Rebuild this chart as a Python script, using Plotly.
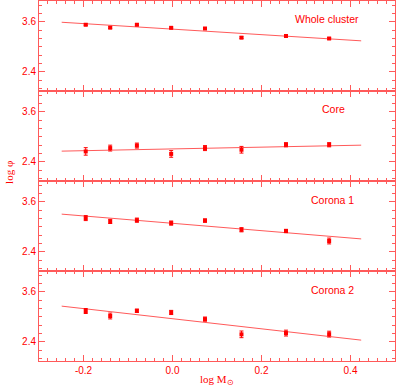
import plotly.graph_objects as go
from plotly.subplots import make_subplots

# log mass bins
log_m = [-0.195, -0.14, -0.08, -0.003, 0.073, 0.155, 0.255, 0.352]

# log phi per region, with errors
whole = [3.53, 3.46, 3.53, 3.456, 3.44, 3.22, 3.26, 3.20]
whole_err = [0.02, 0.02, 0.02, 0.02, 0.02, 0.02, 0.02, 0.02]
core = [2.65, 2.73, 2.79, 2.59, 2.73, 2.69, 2.81, 2.81]
core_err = [0.09, 0.07, 0.06, 0.08, 0.06, 0.08, 0.05, 0.05]
corona1 = [3.21, 3.13, 3.16, 3.09, 3.15, 2.93, 2.90, 2.66]
corona1_err = [0.06, 0.05, 0.05, 0.05, 0.04, 0.05, 0.04, 0.07]
corona2 = [3.14, 3.02, 3.145, 3.105, 2.945, 2.58, 2.61, 2.585]
corona2_err = [0.06, 0.07, 0.04, 0.05, 0.05, 0.08, 0.07, 0.07]

# fitted lines (end points)
fit_x = [-0.249, 0.424]
fit_whole = [3.59, 3.144]
fit_core = [2.657, 2.80]
fit_corona1 = [3.305, 2.71]
fit_corona2 = [3.257, 2.441]

labels = ["Whole cluster", "Core", "Corona 1", "Corona 2"]
label_x = [0.348, 0.362, 0.36, 0.36]
label_y = [3.67, 3.66, 3.64, 3.64]

panels = [(whole, whole_err, fit_whole), (core, core_err, fit_core),
          (corona1, corona1_err, fit_corona1), (corona2, corona2_err, fit_corona2)]

red = "#ff0000"
frame = "#ff5a5a"

fig = make_subplots(rows=4, cols=1, shared_xaxes=True, vertical_spacing=0)

for i, (vals, errs, fit) in enumerate(panels):
    r = i + 1
    fig.add_trace(go.Scatter(x=fit_x, y=fit, mode="lines",
                             line=dict(color=frame, width=1)), row=r, col=1)
    fig.add_trace(go.Scatter(x=log_m, y=vals, mode="markers",
                             marker=dict(symbol="square", size=4, color=red),
                             error_y=dict(type="data", array=errs, color=red,
                                          thickness=1, width=2)),
                  row=r, col=1)
    fig.add_annotation(x=label_x[i], y=label_y[i], text=labels[i], showarrow=False,
                       font=dict(size=10.5, color=red), row=r, col=1)

axis_common = dict(showline=True, linecolor=frame, linewidth=1, mirror="allticks",
                   ticks="inside", tickcolor=frame, showgrid=False, zeroline=False,
                   tickfont=dict(family="Liberation Sans", size=10, color=red))

fig.update_xaxes(range=[-0.3, 0.5], tickvals=[-0.2, 0.0, 0.2, 0.4],
                 ticktext=["-0.2", "0.0", "0.2", "0.4"], ticklen=6,
                 minor=dict(dtick=0.02, tick0=0, ticklen=3, ticks="inside",
                            tickcolor=frame, showgrid=False),
                 **axis_common)
fig.update_yaxes(range=[1.94, 4.1], tickvals=[2.4, 3.6], ticktext=["2.4", "3.6"],
                 ticklen=6,
                 minor=dict(dtick=0.2, tick0=2.4, ticklen=3, ticks="inside",
                            tickcolor=frame, showgrid=False),
                 **axis_common)

fig.add_annotation(xref="paper", yref="paper", x=0.5, y=-0.053, yanchor="middle",
                   text="log M<sub>\u2299</sub>", showarrow=False,
                   font=dict(family="Liberation Serif", size=11, color=red))
fig.add_annotation(xref="paper", yref="paper", x=-0.107, y=0.525, textangle=-90,
                   text="log \u03c6", showarrow=False,
                   font=dict(family="Liberation Serif", size=11, color=red))

fig.update_layout(width=397, height=387, margin=dict(l=39, r=2, t=1, b=26),
                  showlegend=False, plot_bgcolor="white", paper_bgcolor="white",
                  font=dict(family="Liberation Sans", color=red))

fig.write_html("out.html", config={"displayModeBar": False},
               post_script="document.body.style.margin='0px';")
